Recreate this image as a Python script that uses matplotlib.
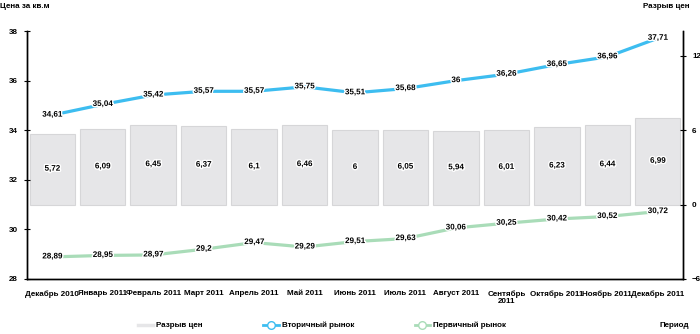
import matplotlib.pyplot as plt
from matplotlib.lines import Line2D
import matplotlib.patheffects as pe

# data
months = ["Декабрь 2010", "Январь 2011", "Февраль 2011", "Март 2011", "Апрель 2011",
          "Май 2011", "Июнь 2011", "Июль 2011", "Август 2011", "Сентябрь\n2011",
          "Октябрь 2011", "Ноябрь 2011", "Декабрь 2011"]
secondary = [34.61, 35.04, 35.42, 35.57, 35.57, 35.75, 35.51, 35.68, 36.0, 36.26, 36.65, 36.96, 37.71]
primary = [28.89, 28.95, 28.97, 29.2, 29.47, 29.29, 29.51, 29.63, 30.06, 30.25, 30.42, 30.52, 30.72]
gap = [5.72, 6.09, 6.45, 6.37, 6.1, 6.46, 6.0, 6.05, 5.94, 6.01, 6.23, 6.44, 6.99]

BLUE = "#3dbdf0"
GREEN = "#a9dcb8"
BAR = "#e6e6e8"
BAR_EDGE = "#d6d6d8"

plt.rcParams['font.family'] = ['Liberation Sans Narrow', 'Liberation Sans', 'DejaVu Sans']
plt.rcParams['font.weight'] = 'bold'
plt.rcParams['font.size'] = 5.8


def fmt(v):
    s = ("%.2f" % v).rstrip("0").rstrip(".")
    return s.replace(".", ",")


halo = [pe.withStroke(linewidth=2, foreground="white")]

fig = plt.figure(figsize=(7, 3.34), dpi=100)
ax = fig.add_axes([0.0386, 0.1647, 0.9371, 0.7423])
ax2 = ax.twinx()

x = list(range(len(months)))

# bars on the right axis
ax2.bar(x, gap, width=0.9, color=BAR, edgecolor=BAR_EDGE, linewidth=0.8, zorder=1)
for i, v in enumerate(gap):
    ax2.text(i, v / 2, fmt(v), ha="center", va="center", path_effects=halo, zorder=5)
ax2.set_ylim(-6, 14)
ax2.set_yticks([-6, 0, 6, 12])
ax2.tick_params(axis="y", direction="inout", length=5, width=0.8, pad=4)

# lines on the left axis (drawn above bars)
ax.set_zorder(ax2.get_zorder() + 1)
ax.patch.set_visible(False)
ax.plot(x, secondary, color=BLUE, lw=2.3, solid_capstyle="butt", zorder=3)
ax.plot(x, primary, color=GREEN, lw=2.3, solid_capstyle="butt", zorder=3)
for i in x:
    ax.text(i, secondary[i], fmt(secondary[i]), ha="center", va="center",
            path_effects=halo, zorder=5)
    ax.text(i, primary[i], fmt(primary[i]), ha="center", va="center",
            path_effects=halo, zorder=5)

ax.set_ylim(28, 38)
ax.set_yticks([28, 30, 32, 34, 36, 38])
ax.set_xlim(-0.5, len(months) - 0.5)
ax.tick_params(axis="y", direction="inout", length=5, width=0.8, pad=4)

# boundary ticks on x, labels at centres
ax.set_xticks([i + 0.5 for i in range(-1, len(months))])
ax.set_xticklabels([])
ax.tick_params(axis="x", which="major", direction="inout", length=5, width=0.8)
ax.set_xticks(x, minor=True)
ax.set_xticklabels(months, minor=True, va="top", linespacing=1.1)
ax.tick_params(axis="x", which="minor", length=0, pad=8)

for a in (ax, ax2):
    a.spines["top"].set_visible(False)
    for s in ("left", "right", "bottom"):
        a.spines[s].set_linewidth(1)
ax2.set_xticks([])

fig.text(0.0, 0.99, "Цена за кв.м", ha="left", va="top")
fig.text(0.985, 0.99, "Разрыв цен", ha="right", va="top")
fig.text(0.985, 0.025, "Период", ha="right", va="center")

handles = [
    Line2D([], [], color=BAR, lw=2.5),
    Line2D([], [], color=BLUE, lw=2, marker="o", markersize=5.5, markerfacecolor="white",
           markeredgecolor=BLUE, markeredgewidth=1),
    Line2D([], [], color=GREEN, lw=2, marker="o", markersize=5.5, markerfacecolor="white",
           markeredgecolor=GREEN, markeredgewidth=1),
]
fig.legend(handles, ["Разрыв цен", "Вторичный рынок", "Первичный рынок"], ncol=3,
           loc="center", bbox_to_anchor=(0.46, 0.025), frameon=False,
           handlelength=1.9, handletextpad=0.4, columnspacing=7.5)

fig.savefig("out.png", dpi=100)
